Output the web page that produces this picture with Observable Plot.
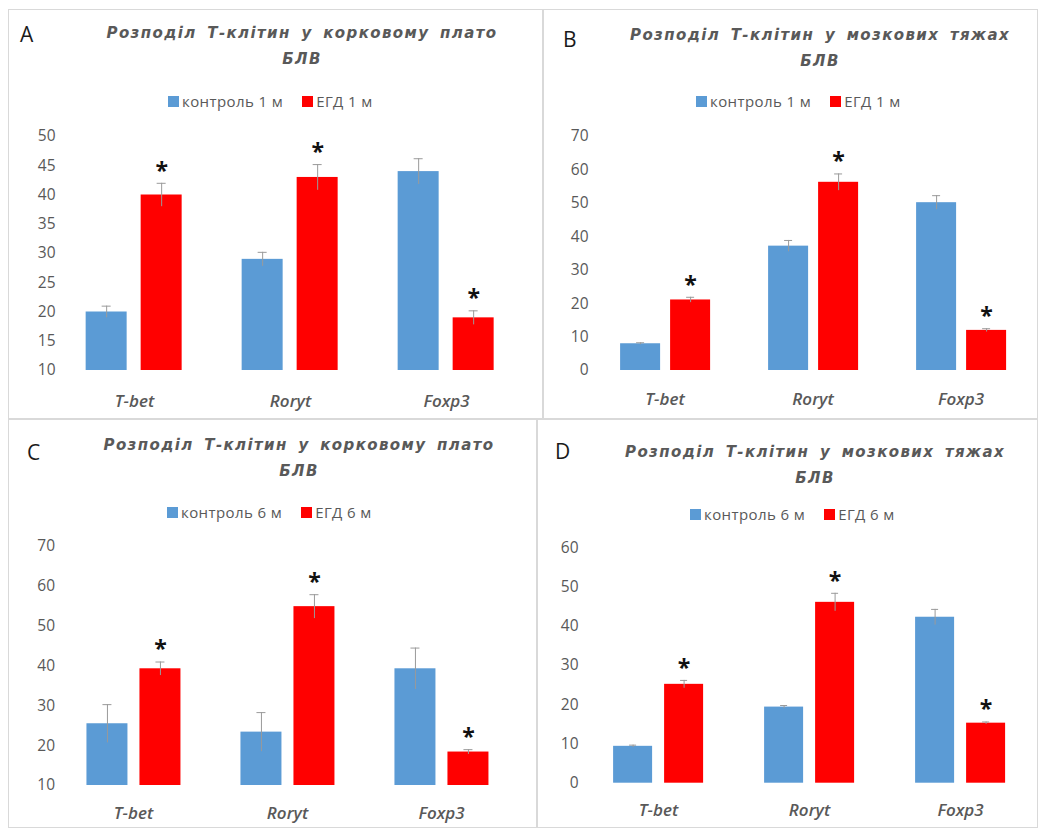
<!DOCTYPE html>
<html><head><meta charset="utf-8">
<script src="https://cdn.jsdelivr.net/npm/d3@7"></script>
<script src="https://cdn.jsdelivr.net/npm/@observablehq/plot@0.6"></script>
<style>
body{margin:0;background:#fff;}
#root{position:relative;width:1038px;height:828px;overflow:hidden;font-family:"Open Sans",sans-serif;}
.panel{position:absolute;border:1px solid #d9d9d9;box-sizing:border-box;}
.letter{position:absolute;font-family:"Open Sans";font-size:21px;line-height:1;color:#1a1a1a;}
.title{position:absolute;width:480px;text-align:center;font-family:"DejaVu Sans";font-weight:bold;font-style:italic;font-size:15px;letter-spacing:1.4px;word-spacing:4px;color:#595959;line-height:26px;white-space:nowrap;}
.legend{position:absolute;height:18px;font-size:15px;letter-spacing:0.4px;color:#595959;display:flex;align-items:center;white-space:nowrap;}
.sw{display:inline-block;width:11px;height:11px;margin-right:3px;}
.plot{position:absolute;}
</style></head><body><div id="root"></div>
<script>
// ---- data ----
const categories = ["T-bet", "Roryt", "Foxp3"];
const series = ["control", "egd"];

// Panel A: корковому плато, 1 м
const controlA = [20, 29, 44];
const controlErrA = [1, 1.2, 2.2];
const egdA = [40, 43, 19];
const egdErrA = [2, 2.2, 1.2];
const sigA = [true, true, true];
const ticksA = [10, 15, 20, 25, 30, 35, 40, 45, 50];

// Panel B: мозкових тяжах, 1 м
const controlB = [8, 37.2, 50.2];
const controlErrB = [0.3, 1.7, 2.1];
const egdB = [21.1, 56.3, 12];
const egdErrB = [0.8, 2.5, 0.5];
const sigB = [true, true, true];
const ticksB = [0, 10, 20, 30, 40, 50, 60, 70];

// Panel C: корковому плато, 6 м
const controlC = [25.5, 23.4, 39.3];
const controlErrC = [4.8, 4.9, 5.2];
const egdC = [39.3, 54.9, 18.4];
const egdErrC = [1.7, 3, 0.6];
const sigC = [true, true, true];
const ticksC = [10, 20, 30, 40, 50, 60, 70];

// Panel D: мозкових тяжах, 6 м
const controlD = [9.4, 19.4, 42.3];
const controlErrD = [0.3, 0.4, 2];
const egdD = [25.2, 46.1, 15.3];
const egdErrD = [1, 2.3, 0.3];
const sigD = [true, true, true];
const ticksD = [0, 10, 20, 30, 40, 50, 60];

const titleCortex = ["Розподіл Т-клітин у корковому плато", "БЛВ"];
const titleMedulla = ["Розподіл Т-клітин у мозкових тяжах", "БЛВ"];
const legend1 = ["контроль 1 м", "ЕГД 1 м"];
const legend6 = ["контроль 6 м", "ЕГД 6 м"];
const colors = ["#5B9BD5", "#FF0000"];

function rows(ctrl, ctrlErr, egd, egdErr, sig) {
  const out = [];
  categories.forEach((c, i) => {
    out.push({cat: c, series: "control", value: ctrl[i], err: ctrlErr[i], sig: false});
    out.push({cat: c, series: "egd", value: egd[i], err: egdErr[i], sig: sig[i]});
  });
  return out;
}

const panels = [
  {letter: "A", title: titleCortex, legend: legend1, data: rows(controlA, controlErrA, egdA, egdErrA, sigA), ticks: ticksA,
   box: [8, 9, 535, 410], letterPos: [20, 24], titleCenter: [302, 20], legendPos: [168, 92],
   svg: [8, 120, 535, 300], m: [16, 19.4, 50, 47.35], fxPad: 0.2077, xPad: 0.2545, tickPad: 17, catPad: 24},
  {letter: "B", title: titleMedulla, legend: legend1, data: rows(controlB, controlErrB, egdB, egdErrB, sigB), ticks: ticksB,
   box: [543, 9, 495, 410], letterPos: [563, 29], titleCenter: [820, 22], legendPos: [696, 92],
   svg: [543, 120, 495, 300], m: [16, 6.3, 50, 49.9], fxPad: 0.25, xPad: 0.208, tickPad: 21, catPad: 22},
  {letter: "C", title: titleCortex, legend: legend6, data: rows(controlC, controlErrC, egdC, egdErrC, sigC), ticks: ticksC,
   box: [8, 419, 529, 409], letterPos: [27, 442], titleCenter: [299, 432], legendPos: [167, 503],
   svg: [8, 530, 529, 298], m: [16, 21.5, 43, 49.55], fxPad: 0.236, xPad: 0.2264, tickPad: 19.5, catPad: 21},
  {letter: "D", title: titleMedulla, legend: legend6, data: rows(controlD, controlErrD, egdD, egdErrD, sigD), ticks: ticksD,
   box: [537, 419, 501, 409], letterPos: [555, 441], titleCenter: [815, 439], legendPos: [690, 505],
   svg: [537, 530, 501, 298], m: [17.3, 4.9, 45.3, 47.9], fxPad: 0.232, xPad: 0.2308, tickPad: 22, catPad: 21}
];

const root = document.getElementById("root");
function el(tag, cls, style, text) {
  const e = document.createElement(tag);
  if (cls) e.className = cls;
  Object.assign(e.style, style || {});
  if (text != null) e.textContent = text;
  root.appendChild(e);
  return e;
}

for (const p of panels) {
  el("div", "panel", {left: p.box[0] + "px", top: p.box[1] + "px", width: p.box[2] + "px", height: p.box[3] + "px"});
  el("div", "letter", {left: p.letterPos[0] + "px", top: p.letterPos[1] + "px"}, p.letter);
  const t = el("div", "title", {left: (p.titleCenter[0] - 240) + "px", top: p.titleCenter[1] + "px"});
  t.innerHTML = p.title[0] + "<br>" + p.title[1];
  const lg = el("div", "legend", {left: p.legendPos[0] + "px", top: p.legendPos[1] + "px"});
  p.legend.forEach((lab, i) => {
    const s = document.createElement("span"); s.className = "sw"; s.style.background = colors[i];
    const tx = document.createElement("span"); tx.textContent = lab;
    if (i === 0) tx.style.marginRight = "19px";
    lg.appendChild(s); lg.appendChild(tx);
  });

  const base = p.ticks[0];
  const chart = Plot.plot({
    width: p.svg[2], height: p.svg[3],
    marginTop: p.m[0], marginRight: p.m[1], marginBottom: p.m[2], marginLeft: p.m[3],
    style: {background: "transparent", overflow: "visible", fontFamily: "Open Sans"},
    fx: {domain: categories, paddingInner: p.fxPad, paddingOuter: 0.1, label: null, axis: null},
    x: {domain: series, padding: p.xPad, axis: null},
    y: {domain: [p.ticks[0], p.ticks[p.ticks.length - 1]], axis: null},
    color: {domain: series, range: colors},
    marks: [
      Plot.axisY({ticks: p.ticks, tickSize: 0, tickPadding: p.tickPad, fontSize: 15.5, fill: "#595959", label: null}),
      Plot.axisFx({anchor: "bottom", tickSize: 0, tickPadding: p.catPad, fontSize: 17, fontStyle: "italic", fontWeight: 600, fill: "#595959", label: null}),
      Plot.barY(p.data, {fx: "cat", x: "series", y1: base, y2: "value", fill: "series"}),
      Plot.ruleX(p.data, {fx: "cat", x: "series", y1: d => d.value - d.err, y2: d => d.value + d.err, stroke: "#9a9a9a", strokeWidth: 1}),
      Plot.tickY(p.data, {fx: "cat", x: "series", y: d => d.value + d.err, stroke: "#9a9a9a", insetLeft: 16, insetRight: 16}),
      Plot.text(p.data.filter(d => d.sig), {fx: "cat", x: "series", y: d => d.value + d.err, text: () => "*", dy: -12, fontSize: 23, fontWeight: "bold", fill: "#111"})
    ]
  });
  chart.classList.add("plot");
  chart.style.left = p.svg[0] + "px";
  chart.style.top = p.svg[1] + "px";
  root.appendChild(chart);
}
</script>
</body></html>
